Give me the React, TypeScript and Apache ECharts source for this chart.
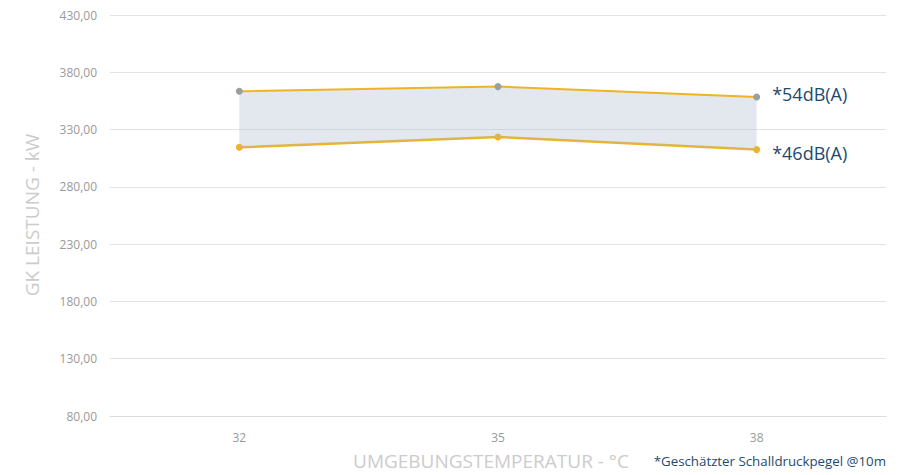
import React, { useEffect, useRef } from "react";
import * as echarts from "echarts";

const categories = ["32", "35", "38"];
const upper54 = [363.5, 367.5, 358.5];
const lower46 = [314.5, 323.5, 312.5];
const seriesLabels = ["*54dB(A)", "*46dB(A)"];
const yMin = 80;
const yMax = 430;
const yStep = 50;

export default function App() {
  const ref = useRef<HTMLDivElement>(null);
  useEffect(() => {
    if (!ref.current) return;
    const chart = echarts.init(ref.current, null, { renderer: "svg" });
    const diff = upper54.map((v, i) => +(v - lower46[i]).toFixed(2));
    const last = categories.length - 1;
    const font = "'Open Sans', 'Noto Sans', sans-serif";
    chart.setOption({
      animation: false,
      backgroundColor: "#ffffff",
      textStyle: { fontFamily: font },
      grid: { left: 110, right: 22, top: 15, bottom: 59, containLabel: false },
      xAxis: {
        type: "category",
        data: categories,
        boundaryGap: true,
        axisLine: { show: true, lineStyle: { color: "#dcdcdc" } },
        axisTick: { show: false },
        axisLabel: { color: "#9a9a9a", fontSize: 12, margin: 15, fontFamily: font },
      },
      yAxis: {
        type: "value",
        min: yMin,
        max: yMax,
        interval: yStep,
        axisLine: { show: false },
        axisTick: { show: false },
        splitLine: { lineStyle: { color: "#e3e3e3" } },
        axisLabel: {
          color: "#9a9a9a",
          fontSize: 12,
          margin: 13,
          fontFamily: font,
          formatter: (v: number) => v.toFixed(2).replace(".", ","),
        },
      },
      series: [
        {
          name: "46",
          type: "line",
          stack: "band",
          data: lower46,
          symbol: "circle",
          symbolSize: 7,
          showAllSymbol: true,
          itemStyle: { color: "#f0b323" },
          lineStyle: { color: "#f0b323", width: 2.5 },
          label: {
            show: true,
            position: "right",
            distance: 12,
            offset: [0, 3],
            color: "#1f4a6e",
            fontSize: 18,
            fontFamily: font,
            formatter: (p: any) => (p.dataIndex === last ? seriesLabels[1] : ""),
          },
          z: 3,
        },
        {
          name: "54",
          type: "line",
          stack: "band",
          data: diff,
          symbol: "circle",
          symbolSize: 7,
          showAllSymbol: true,
          itemStyle: { color: "#9a9fa3" },
          lineStyle: { color: "#f0b323", width: 2 },
          areaStyle: { color: "rgba(168,188,204,0.48)" },
          label: {
            show: true,
            position: "right",
            distance: 12,
            offset: [0, -3],
            color: "#1f4a6e",
            fontSize: 18,
            fontFamily: font,
            formatter: (p: any) => (p.dataIndex === last ? seriesLabels[0] : ""),
          },
          z: 4,
        },
      ],
      graphic: [
        {
          type: "text",
          x: 32,
          y: 215,
          rotation: Math.PI / 2,
          style: {
            text: "GK LEISTUNG - kW",
            fill: "#cccccc",
            fontSize: 19,
            fontFamily: font,
            align: "center",
            verticalAlign: "middle",
          },
        },
        {
          type: "text",
          x: 491,
          y: 461,
          style: {
            text: "UMGEBUNGSTEMPERATUR - °C",
            fill: "#cccccc",
            fontSize: 19,
            fontFamily: font,
            align: "center",
            verticalAlign: "middle",
          },
        },
        {
          type: "text",
          x: 886,
          y: 461,
          style: {
            text: "*Geschätzter Schalldruckpegel @10m",
            fill: "#1f4a6e",
            fontSize: 13.3,
            fontFamily: font,
            align: "right",
            verticalAlign: "middle",
          },
        },
      ],
    });
    return () => chart.dispose();
  }, []);
  return <div ref={ref} style={{ width: 908, height: 475, position: "absolute", left: 0, top: 0 }} />;
}
